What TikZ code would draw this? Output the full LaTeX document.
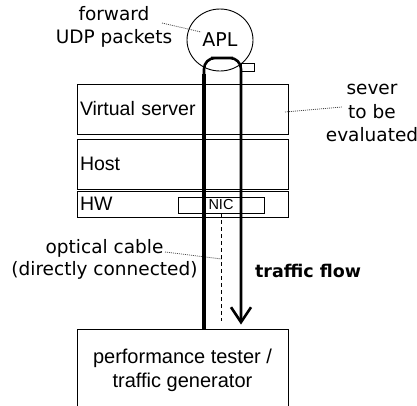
\documentclass[tikz,border=0pt]{standalone}
\usepackage{fontspec}
\setmainfont{Liberation Sans}
\newfontfamily\wide{DejaVu Sans}
\usetikzlibrary{positioning,shapes.geometric,arrows.meta}

\begin{document}
\begin{tikzpicture}[x=1pt,y=-1pt,
  layer/.style={draw,line width=0.9pt,minimum width=211pt,text width=205pt,inner xsep=3pt,align=left,font=\fontsize{19.5}{23}\selectfont},
  note/.style={align=center,font=\wide\fontsize{18.5}{23}\selectfont},
  leader/.style={draw=black!70,line width=0.8pt,dash pattern=on 1pt off 1pt}]
  \useasboundingbox (0,0) rectangle (417,405);

  % server layers
  \node[layer,minimum height=50pt] (vserver) at (182.5,109) {Virtual server};
  \node[layer,minimum height=50pt] (host) at (182.5,164) {Host};
  \node[layer,minimum height=26pt] (hw) at (182.5,204) {HW};
  \node[draw,line width=0.9pt,minimum width=86pt,minimum height=16pt,inner sep=0pt,font=\fontsize{14.5}{16}\selectfont] (nic) at (221,205) {NIC};

  % tester
  \node[draw,line width=0.9pt,minimum width=211pt,minimum height=82pt,align=center,font=\fontsize{20}{24}\selectfont] (tester) at (182.5,370) {performance tester /\\traffic generator};

  % application
  \node[draw,ellipse,line width=0.9pt,minimum width=66pt,minimum height=62pt,inner sep=0pt,font=\wide\fontsize{19}{22}\selectfont] (apl) at (220,40) {APL};
  \node[draw,line width=0.9pt,minimum width=13pt,minimum height=8pt,inner sep=0pt] (port) at (247.5,67) {};

  % labels
  \node[note] (fwd) at (114,27) {forward\\UDP packets};
  \node[note,font=\wide\fontsize{18.5}{23.5}\selectfont] (sut) at (372,113) {sever\\to be\\evaluated};
  \node[note,font=\wide\fontsize{18.5}{22}\selectfont] (optic) at (104.5,259) {optical cable\\(directly connected)};
  \node[font=\wide\bfseries\fontsize{17.5}{20}\selectfont] (flow) at (308,271) {traffic flow};

  \coordinate (f1) at (162,23);
  \coordinate (f2) at (201,32);
  \coordinate (s1) at (285,112);
  \coordinate (s2) at (342,107);
  \coordinate (o1) at (165,252);
  \coordinate (o2) at (222,259);
  \draw[leader] (f1) -- (f2);
  \draw[leader] (s1) -- (s2);
  \draw[leader] (o1) -- (o2);

  % cable
  \coordinate (plug) at (222,321);
  \draw[line width=0.8pt,dash pattern=on 4pt off 3pt] (nic.south) -- (nic.south |- plug);

  % traffic loop
  \coordinate (turn) at (222,58);
  \draw[line width=2.6pt,rounded corners=11pt,-{Straight Barb[length=15pt,width=20pt]}]
    ([xshift=21.5pt]tester.north) |- (turn) -| ([xshift=58.5pt,yshift=4pt]tester.north);
  \draw[line width=4pt] ([xshift=21.5pt]tester.north) -- ++(0,-255);
\end{tikzpicture}
\end{document}
